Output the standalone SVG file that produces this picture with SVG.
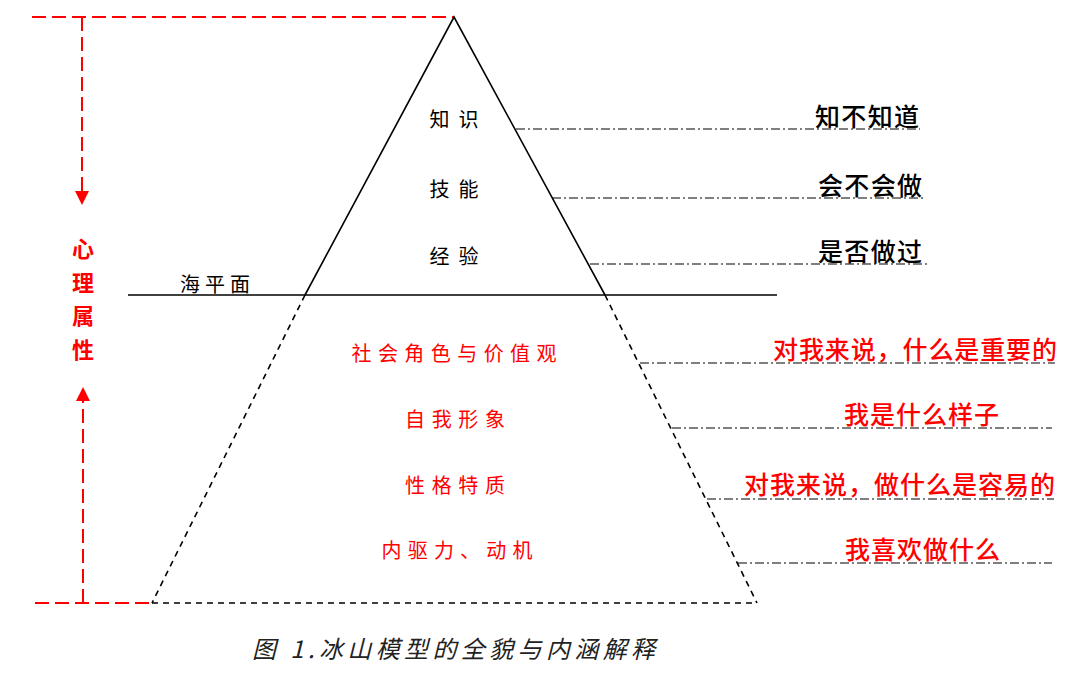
<svg xmlns="http://www.w3.org/2000/svg" width="1080" height="695" viewBox="0 0 1080 695">
<style>
.red-dash{stroke:#ff0000;stroke-width:2;stroke-dasharray:14 6;fill:none}
.solid{stroke:#000;stroke-width:1.6;fill:none}
.bdash{stroke:#000;stroke-width:1.6;stroke-dasharray:6 5;fill:none}
.leader{stroke:#000;stroke-width:1.2;stroke-dasharray:9 3 2 3;fill:none}
.inner{font-family:"Noto Sans CJK SC","Noto Sans",sans-serif;font-size:20px;text-anchor:middle;dominant-baseline:central}
.blk{fill:#000}
.red{fill:#ff0000}
.lbl{font-family:"Noto Sans CJK SC","Noto Sans",sans-serif;font-size:25px;dominant-baseline:central;font-weight:500}
.side{font-family:"Noto Sans CJK SC",sans-serif;font-size:22px;font-weight:bold;fill:#ff0000;text-anchor:middle;dominant-baseline:central}
</style>
<rect width="1080" height="695" fill="#fff"/>
<g id="connectors">
<line class="red-dash" x1="32" y1="17" x2="454" y2="17"/>
<line class="red-dash" x1="35" y1="603" x2="152" y2="603"/>
<line class="red-dash" x1="82" y1="17" x2="82" y2="192"/>
<path d="M75,191 L89,191 L82,205 Z" fill="#ff0000"/>
<line class="red-dash" x1="83" y1="603" x2="83" y2="400"/>
<path d="M76,401 L90,401 L83,387 Z" fill="#ff0000"/>
<line class="solid" x1="128" y1="295" x2="777" y2="295"/>
<line class="bdash" x1="152" y1="603" x2="757" y2="603"/>
<line class="leader" x1="516" y1="129" x2="920" y2="129"/>
<line class="leader" x1="552" y1="198" x2="925" y2="198"/>
<line class="leader" x1="590" y1="264" x2="930" y2="264"/>
<line class="leader" x1="640" y1="363" x2="1055" y2="363"/>
<line class="leader" x1="672" y1="428" x2="1052" y2="428"/>
<line class="leader" x1="707" y1="499" x2="1054" y2="499"/>
<line class="leader" x1="738" y1="563" x2="1052" y2="563"/>
</g>
<g id="iceberg">
<polyline class="solid" points="305,295 454,17 605,295"/>
<line class="bdash" x1="305" y1="295" x2="152" y2="603"/>
<line class="bdash" x1="605" y1="295" x2="757" y2="603"/>
</g>
<g id="sea-level"><text class="inner blk" x="215" y="283" font-size="19" textLength="70" lengthAdjust="spacing">海平面</text></g>
<g id="side-label">
<text class="side" x="83" y="247">心</text>
<text class="side" x="83" y="281">理</text>
<text class="side" x="83" y="314">属</text>
<text class="side" x="83" y="348">性</text>
</g>
<g id="n-knowledge"><text class="inner blk" x="454" y="118" textLength="49" lengthAdjust="spacing">知识</text></g>
<g id="n-skill"><text class="inner blk" x="454" y="188" textLength="49" lengthAdjust="spacing">技能</text></g>
<g id="n-experience"><text class="inner blk" x="454" y="255" textLength="49" lengthAdjust="spacing">经验</text></g>
<g id="n-role"><text class="inner red" x="454" y="352" textLength="205" lengthAdjust="spacing">社会角色与价值观</text></g>
<g id="n-self"><text class="inner red" x="455" y="418" textLength="100" lengthAdjust="spacing">自我形象</text></g>
<g id="n-trait"><text class="inner red" x="455" y="484" textLength="100" lengthAdjust="spacing">性格特质</text></g>
<g id="n-motive"><text class="inner red" x="457" y="549" textLength="151" lengthAdjust="spacing">内驱力、动机</text></g>
<g id="r-know"><text class="lbl blk" x="815" y="115" textLength="104" lengthAdjust="spacing">知不知道</text></g>
<g id="r-skill"><text class="lbl blk" x="818" y="184" textLength="104" lengthAdjust="spacing">会不会做</text></g>
<g id="r-exp"><text class="lbl blk" x="818" y="250" textLength="104" lengthAdjust="spacing">是否做过</text></g>
<g id="r-role"><text class="lbl red" x="773" y="348" textLength="284" lengthAdjust="spacing">对我来说，什么是重要的</text></g>
<g id="r-self"><text class="lbl red" x="844" y="413" textLength="155" lengthAdjust="spacing">我是什么样子</text></g>
<g id="r-trait"><text class="lbl red" x="744" y="483" textLength="311" lengthAdjust="spacing">对我来说，做什么是容易的</text></g>
<g id="r-motive"><text class="lbl red" x="845" y="548" textLength="155" lengthAdjust="spacing">我喜欢做什么</text></g>
<g id="caption"><text x="252" y="647" font-family="'Noto Sans CJK SC',sans-serif" font-size="24" font-style="italic" fill="#222" dominant-baseline="central" textLength="403" lengthAdjust="spacing">图 1.冰山模型的全貌与内涵解释</text></g>
</svg>
